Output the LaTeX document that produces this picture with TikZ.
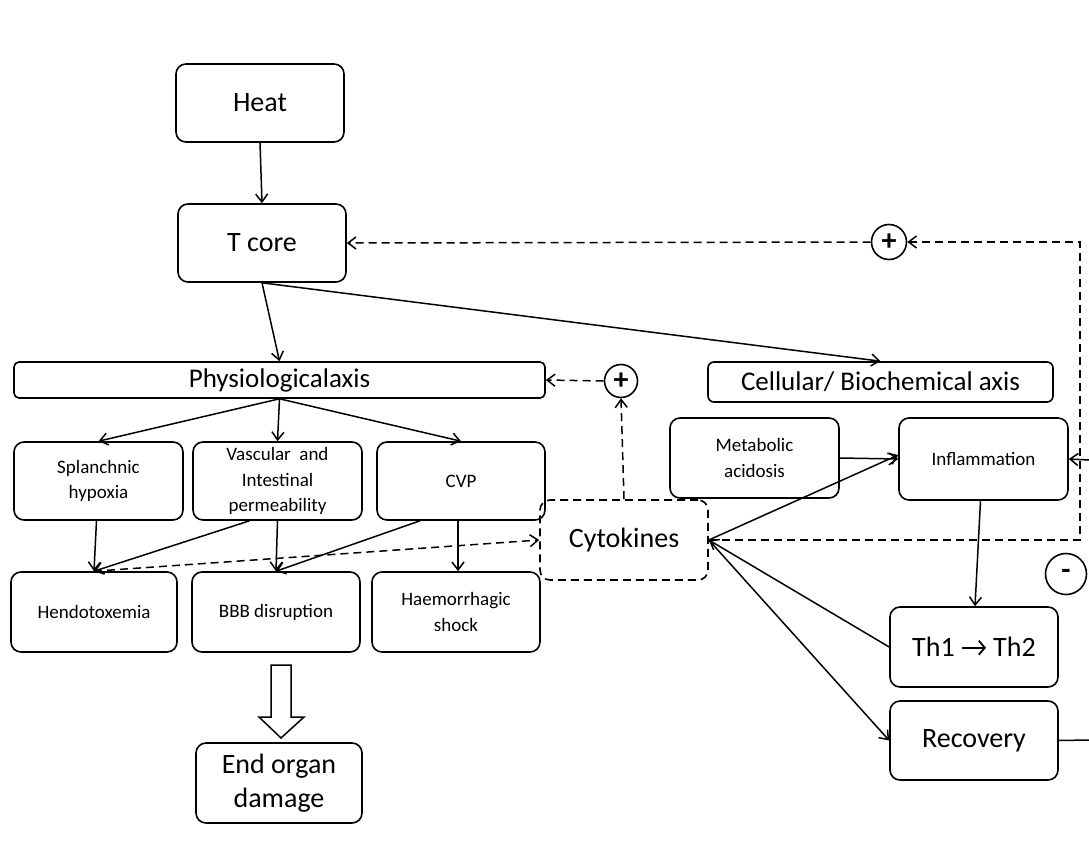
\documentclass[tikz,border=0pt]{standalone}
\usepackage{fontspec}
\setmainfont{Carlito}
\usetikzlibrary{arrows.meta}
\begin{document}
\begin{tikzpicture}[x=1pt,y=-1pt,
  box/.style={draw, line width=1.6pt, rounded corners=10pt, align=center, inner sep=0pt},
  big/.style={font=\fontsize{28}{34}\selectfont},
  small/.style={font=\fontsize{19}{25.5}\selectfont},
  conn/.style={line width=1.5pt, -{Straight Barb[length=8pt,width=12pt]}},
  dconn/.style={line width=1.5pt, dash pattern=on 8pt off 5pt, -{Straight Barb[length=8pt,width=12pt]}},
  sign/.style={draw, circle, line width=1.6pt, inner sep=0pt, font=\fontsize{30}{30}\selectfont\bfseries}
]
\useasboundingbox (0,0) rectangle (1089,843);

% top nodes
\node[box,big,minimum width=168pt,minimum height=78pt] (heat) at (260,103) {Heat};
\node[box,big,minimum width=168pt,minimum height=78pt] (tcore) at (262,243) {T core};
\node[box,font=\fontsize{27}{30}\selectfont,rounded corners=5pt,minimum width=531pt,minimum height=36pt] (phys) at (279.5,380) {Physiologicalaxis};
\node[box,font=\fontsize{27}{30}\selectfont,rounded corners=6pt,minimum width=345pt,minimum height=40pt] (cell) at (880.5,382) {Cellular/ Biochemical axis};

% physiological row 1
\node[box,small,minimum width=169pt,minimum height=78pt] (spl) at (98.5,481) {Splanchnic\\hypoxia};
\node[box,small,minimum width=169pt,minimum height=78pt] (vas) at (277.5,481) {Vascular\ \ and\\Intestinal\\permeability};
\node[box,small,minimum width=168pt,minimum height=78pt] (cvp) at (461,481) {CVP};
% row 2
\node[box,small,minimum width=166pt,minimum height=80pt] (hen) at (94,612) {Hendotoxemia};
\node[box,small,minimum width=168pt,minimum height=80pt] (bbb) at (276,612) {BBB disruption};
\node[box,small,minimum width=168pt,minimum height=80pt] (hae) at (456,612) {Haemorrhagic\\shock};
\node[box,big,minimum width=166pt,minimum height=80pt] (end) at (279,783) {End organ\\damage};

% cytokines
\node[box,big,dash pattern=on 8pt off 5pt,minimum width=168pt,minimum height=80pt] (cyt) at (624,540) {Cytokines};

% right side
\node[box,small,minimum width=169pt,minimum height=80pt] (met) at (754.5,458) {Metabolic\\acidosis};
\node[box,small,minimum width=169pt,minimum height=82pt] (inf) at (983.5,459) {Inflammation};
\node[box,big,minimum width=168pt,minimum height=80pt] (th) at (974,647) {Th1 \tikz[baseline=-9pt]\draw[line width=1.8pt,-{Straight Barb[length=6pt,width=14pt]}] (0,0) -- (24pt,0);\ Th2};
\node[box,big,minimum width=168pt,minimum height=79pt] (rec) at (974,740.5) {Recovery};

% signs
\node[sign,minimum size=33pt] (p1) at (621,381) {+};
\node[sign,minimum size=35pt] (p2) at (889,242) {+};
\node[sign,minimum size=41pt] (m1) at (1066,574) {-};

% solid connectors
\draw[conn] (heat.south) -- (tcore.north);
\draw[conn] (tcore.south) -- (phys.north);
\draw[conn] (tcore.south) -- (cell.north);
\draw[conn] (phys.south) -- (spl.north);
\draw[conn] (phys.south) -- (vas.north);
\draw[conn] (phys.south) -- (cvp.north);
\draw[conn] ([xshift=-2pt]spl.south) -- (hen.north);
\draw[conn] ([xshift=-28pt]vas.south) -- (hen.north);
\draw[conn] (vas.south) -- (bbb.north);
\draw[conn] ([xshift=-41pt]cvp.south) -- (bbb.north);
\draw[conn] ([xshift=-3pt]cvp.south) -- ([xshift=2pt]hae.north);
\draw[conn] (met.east) -- (inf.west);
\draw[conn] (cyt.east) -- ([yshift=4pt]inf.west);
\draw[conn] (th.west) -- (cyt.east);
\draw[conn] (cyt.east) -- (rec.west);
\draw[conn] ([xshift=-3pt]inf.south) -- ([xshift=1pt]th.north);
\coordinate (rin) at (1089,460);
\draw[conn] (rin) -- (inf.east);
\coordinate (rout) at (1089,740);
\draw[line width=1.5pt] (rec.east) -- (rout);

% dashed connectors
\draw[dconn] (hen.north) -- (cyt.west);
\draw[dconn] (cyt.north) -- (p1.south);
\draw[dconn] (p1.west) -- (phys.east);
\coordinate (c1) at (1080,540);
\coordinate (c2) at (1080,242);
\draw[dconn] (cyt.east) -- (c1) -- (c2) -- (p2.east);
\draw[dconn] (p2.west) -- (tcore.east);

% hollow arrow
\draw[line width=1.5pt, fill=white] (271,665) -- (291,665) -- (291,717) -- (304,717) -- (281,738) -- (259,717) -- (271,717) -- cycle;
\end{tikzpicture}
\end{document}
